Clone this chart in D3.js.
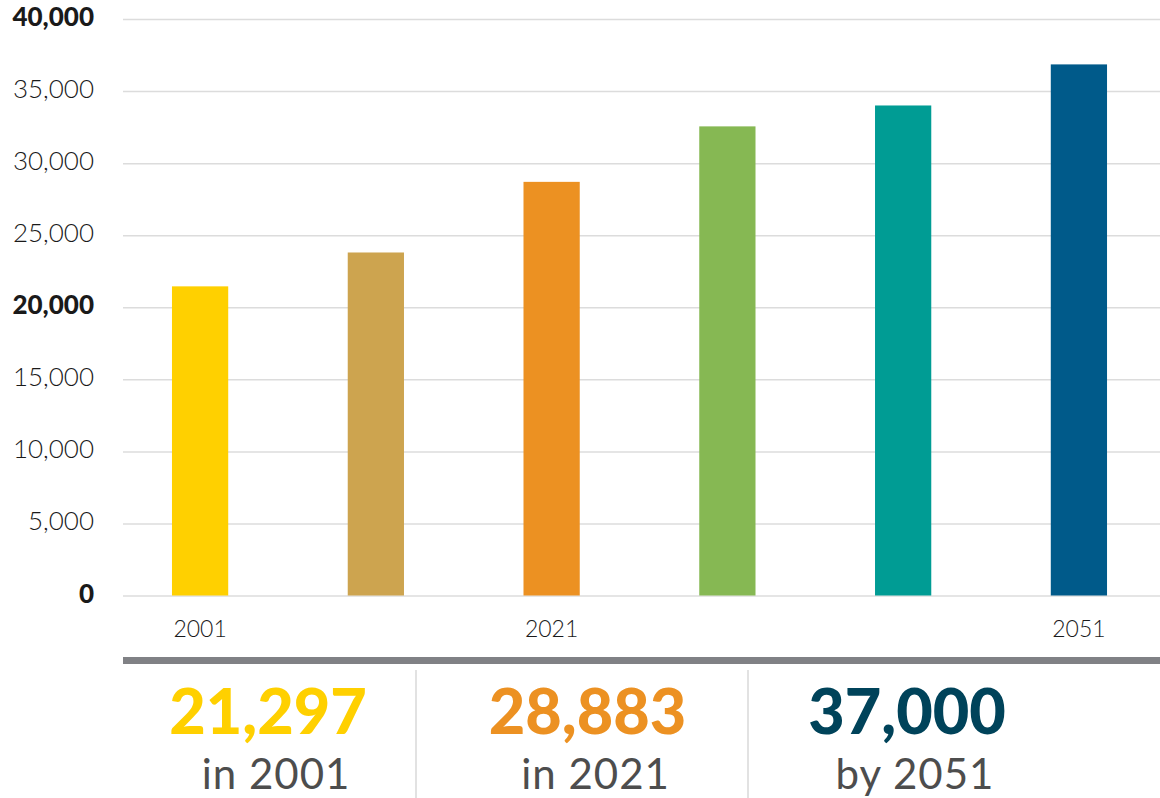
<!DOCTYPE html>
<html>
<head>
<meta charset="utf-8">
<script src="https://cdn.jsdelivr.net/npm/d3@7"></script>
<style>
    body { margin: 0; background: #fff; font-family: Lato, "Noto Sans", sans-serif; }
    .grid line { stroke: #dcdcdc; stroke-width: 1.5; }
    .grid .domain { display: none; }
    .y-label { fill: #1a1a1a; font-size: 26px; font-weight: 300; text-anchor: end; }
    .y-label.major { font-weight: 900; }
    .x-label { fill: #1a1a1a; font-size: 23px; font-weight: 300; text-anchor: middle; }
    .big-number { font-size: 63px; font-weight: 900; text-anchor: middle; }
    .caption { fill: #4d4d4d; font-size: 42px; text-anchor: middle; letter-spacing: 1px; }
</style>
</head>
<body>
<div id="wrapper"></div>
<script>
// 1. Data
const years = ["2001", "2011", "2021", "2031", "2041", "2051"]
const values = [21450, 23800, 28700, 32550, 34000, 36850]
const barColors = ["#ffd000", "#cda44f", "#ec9122", "#86b853", "#009c94", "#005a8a"]
const tickLabels = ["2001", "", "2021", "", "", "2051"]
const yTicks = [0, 5000, 10000, 15000, 20000, 25000, 30000, 35000, 40000]
const boldTicks = [0, 20000, 40000]

const highlightValues = ["21,297", "28,883", "37,000"]
const highlightCaptions = ["in 2001", "in 2021", "by 2051"]
const highlightColors = ["#ffd000", "#ec9122", "#00435a"]

function drawBarChart() {

    // 2. Dimensions
    let dimensions = {
        width: 1160,
        height: 798,
        margin: {
            top: 19,
            right: 0,
            bottom: 202.5,
            left: 123,
        },
    }
    dimensions.boundedWidth = dimensions.width - dimensions.margin.left - dimensions.margin.right
    dimensions.boundedHeight = dimensions.height - dimensions.margin.top - dimensions.margin.bottom

    // 3. Canvas
    const wrapper = d3.select("#wrapper")
        .append("svg")
        .attr("width", dimensions.width)
        .attr("height", dimensions.height)

    const bounds = wrapper.append("g")
        .attr("transform", `translate(${dimensions.margin.left}, ${dimensions.margin.top})`)

    // 4. Scales
    const yScale = d3.scaleLinear()
        .domain([0, 40000])
        .range([dimensions.boundedHeight, 0])

    const xScale = d3.scaleBand()
        .domain(years)
        .range([-2, dimensions.boundedWidth - 2])
        .paddingInner(0.68)
        .paddingOuter(0.29)

    // 5. Gridlines and y labels
    const grid = bounds.append("g")
        .attr("class", "grid")
        .call(d3.axisLeft(yScale)
            .tickValues(yTicks)
            .tickSize(-dimensions.boundedWidth)
            .tickFormat(""))

    bounds.selectAll(".y-label")
        .data(yTicks)
        .enter().append("text")
        .attr("class", d => boldTicks.includes(d) ? "y-label major" : "y-label")
        .attr("x", -29)
        .attr("y", d => yScale(d) + 7)
        .text(d => d3.format(",")(d))

    // 6. Bars
    bounds.selectAll(".bar")
        .data(years)
        .enter().append("rect")
        .attr("class", "bar")
        .attr("x", d => xScale(d))
        .attr("width", xScale.bandwidth())
        .attr("y", (d, i) => yScale(values[i]))
        .attr("height", (d, i) => dimensions.boundedHeight - yScale(values[i]))
        .attr("fill", (d, i) => barColors[i])

    bounds.selectAll(".x-label")
        .data(years)
        .enter().append("text")
        .attr("class", "x-label")
        .attr("x", d => xScale(d) + xScale.bandwidth() / 2)
        .attr("y", dimensions.boundedHeight + 41)
        .text((d, i) => tickLabels[i])

    // 7. Summary strip
    const summary = wrapper.append("g")

    summary.append("rect")
        .attr("x", dimensions.margin.left)
        .attr("y", 657)
        .attr("width", dimensions.boundedWidth)
        .attr("height", 7)
        .attr("fill", "#808185")

    const columnScale = d3.scaleBand()
        .domain(highlightCaptions)
        .range([84, 1080])

    summary.selectAll(".separator")
        .data(highlightCaptions.slice(1))
        .enter().append("line")
        .attr("class", "separator")
        .attr("x1", d => columnScale(d))
        .attr("x2", d => columnScale(d))
        .attr("y1", 670)
        .attr("y2", dimensions.height)
        .attr("stroke", "#cfcfcf")
        .attr("stroke-width", 1.2)

    const textScale = d3.scalePoint()
        .domain(highlightCaptions)
        .range([273, 912])

    summary.selectAll(".big-number")
        .data(highlightCaptions)
        .enter().append("text")
        .attr("class", "big-number")
        .attr("x", d => textScale(d) - 5)
        .attr("y", 734)
        .attr("fill", (d, i) => highlightColors[i])
        .text((d, i) => highlightValues[i])

    summary.selectAll(".caption")
        .data(highlightCaptions)
        .enter().append("text")
        .attr("class", "caption")
        .attr("x", d => textScale(d) + 3)
        .attr("y", 789)
        .text(d => d)
}
drawBarChart()
</script>
</body>
</html>
